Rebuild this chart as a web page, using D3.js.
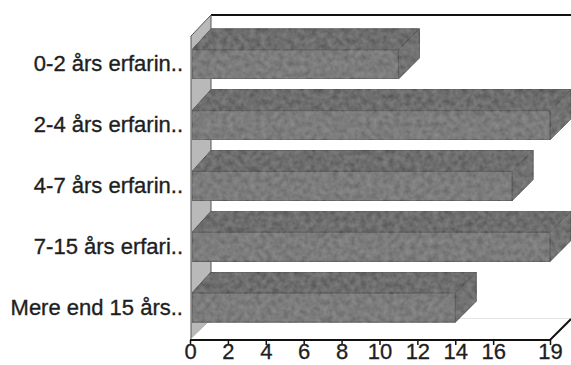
<!DOCTYPE html>
<html>
<head>
<meta charset="utf-8">
<script src="https://cdn.jsdelivr.net/npm/d3@7"></script>
<style>
  html, body { margin: 0; padding: 0; background: #fff; }
  svg { display: block; }
</style>
</head>
<body>
<svg id="chart" width="571" height="365"></svg>
<script>
// Experience groups and their counts
const categories = [
  "0-2 års erfarin..",
  "2-4 års erfarin..",
  "4-7 års erfarin..",
  "7-15 års erfari..",
  "Mere end 15 års.."
];
const values = [11, 19, 17, 19, 14];
const tickValues = [0, 2, 4, 6, 8, 10, 12, 14, 16, 19];

const svg = d3.select("#chart");

// soft mottled texture for the bar faces
const defs = svg.append("defs");
const grain = defs.append("filter").attr("id", "grain")
  .attr("x", 0).attr("y", 0).attr("width", 1).attr("height", 1);
grain.append("feTurbulence").attr("type", "fractalNoise")
  .attr("baseFrequency", 0.18).attr("numOctaves", 2).attr("seed", 7).attr("result", "noise");
grain.append("feColorMatrix").attr("in", "noise").attr("type", "matrix")
  .attr("values", "1 0 0 0 0  1 0 0 0 0  1 0 0 0 0  0 0 0 0 0.16")
  .attr("result", "mottle");
grain.append("feComposite").attr("in", "mottle").attr("in2", "SourceGraphic")
  .attr("operator", "in").attr("result", "mottleIn");
grain.append("feMerge").call(m => {
  m.append("feMergeNode").attr("in", "SourceGraphic");
  m.append("feMergeNode").attr("in", "mottleIn");
});

// 3D depth offset of the plot box
const DX = 21, DY = 21;
const floorY = 340;
const topY = 15;

const x = d3.scaleLinear().domain([0, 19]).range([190, 550]);
const y = d3.scaleBand().domain(categories)
  .range([34, 338]).paddingInner(0.52).paddingOuter(0.26);

const x0 = x(0);
const xMax = x(19);
const poly = pts => pts.map(p => p.join(",")).join(" ");

// back wall
svg.append("polygon")
  .attr("points", poly([[x0 + DX, topY], [xMax + DX, topY], [xMax + DX, floorY - DY], [x0 + DX, floorY - DY]]))
  .attr("fill", "#fff");
svg.append("line")
  .attr("x1", x0 + DX).attr("x2", 571).attr("y1", topY).attr("y2", topY)
  .attr("stroke", "#111").attr("stroke-width", 2);
svg.append("line")
  .attr("x1", x0 + DX).attr("x2", 571).attr("y1", floorY - DY).attr("y2", floorY - DY)
  .attr("stroke", "#c8c8c8").attr("stroke-width", 1);

// left wall
svg.append("polygon")
  .attr("points", poly([[x0 + 1, topY + DY], [x0 + DX, topY], [x0 + DX, floorY - DY], [x0 + 1, floorY]]))
  .attr("fill", "#b9b9b9").attr("stroke", "#555").attr("stroke-width", 1);

// floor
svg.append("polygon")
  .attr("points", poly([[x0, floorY], [xMax, floorY], [xMax + DX, floorY - DY], [x0 + DX, floorY - DY]]))
  .attr("fill", "#fff");
svg.append("polyline")
  .attr("points", poly([[x0, floorY], [xMax, floorY], [xMax + DX, floorY - DY]]))
  .attr("fill", "none").attr("stroke", "#111").attr("stroke-width", 2);

// bars
const bars = svg.append("g").selectAll("g").data(categories).join("g")
  .attr("filter", "url(#grain)");
const bw = y.bandwidth();
bars.append("polygon") // top face
  .attr("points", (c, i) => {
    const yy = y(c), xe = x(values[i]);
    return poly([[x0 + 2, yy], [xe, yy], [xe + DX, yy - DY], [x0 + DX, yy - DY]]);
  })
  .attr("fill", "#555").attr("stroke", "#333").attr("stroke-width", 1);
bars.append("polygon") // end face
  .attr("points", (c, i) => {
    const yy = y(c), xe = x(values[i]);
    return poly([[xe, yy], [xe + DX, yy - DY], [xe + DX, yy - DY + bw], [xe, yy + bw]]);
  })
  .attr("fill", "#5b5b5b").attr("stroke", "#333").attr("stroke-width", 1);
bars.append("rect") // front face
  .attr("x", x0 + 2)
  .attr("y", c => y(c))
  .attr("width", (c, i) => x(values[i]) - x0 - 2)
  .attr("height", bw)
  .attr("fill", "#6a6a6a").attr("stroke", "#3a3a3a").attr("stroke-width", 1);

// category labels
svg.append("g").selectAll("text").data(categories).join("text")
  .attr("x", 183)
  .attr("y", c => y(c) + bw / 2 + 7)
  .attr("text-anchor", "end")
  .attr("font-family", "Liberation Sans, Arial, sans-serif")
  .attr("font-size", 22)
  .attr("fill", "#1e1e1e")
  .attr("stroke", "#1e1e1e").attr("stroke-width", 0.35)
  .text(c => c);

// value axis
const axis = d3.axisBottom(x).tickValues(tickValues).tickSize(5).tickFormat(d3.format("d"));
const ax = svg.append("g").attr("transform", `translate(0,${floorY})`).call(axis);
ax.select(".domain").remove();
ax.selectAll(".tick line").attr("stroke", "#111").attr("stroke-width", 1.5);
ax.selectAll(".tick text")
  .attr("y", 19)
  .attr("dy", 0)
  .attr("font-family", "Liberation Sans, Arial, sans-serif")
  .attr("font-size", 22)
  .attr("fill", "#1e1e1e")
  .attr("stroke", "#1e1e1e").attr("stroke-width", 0.3);
</script>
</body>
</html>
